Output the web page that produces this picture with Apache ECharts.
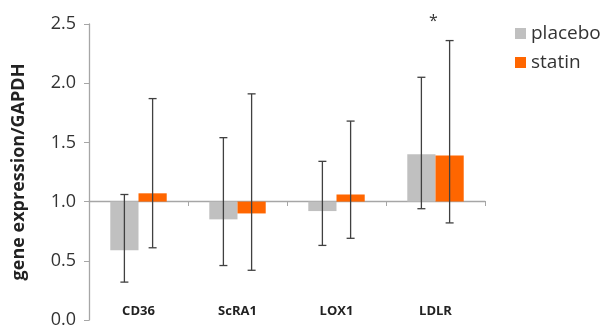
<!DOCTYPE html>
<html><head><meta charset="utf-8">
<script src="https://cdn.jsdelivr.net/npm/echarts@6/dist/echarts.min.js"></script>
<style>html,body{margin:0;padding:0;background:#fff}#c{width:601px;height:329px}</style>
</head><body><div id="c"></div>
<script>
var categories = ['CD36', 'ScRA1', 'LOX1', 'LDLR'];
var placebo = [0.59, 0.85, 0.92, 1.40];
var placeboLow = [0.32, 0.46, 0.63, 0.94];
var placeboHigh = [1.06, 1.54, 1.34, 2.05];
var statin = [1.07, 0.90, 1.06, 1.39];
var statinLow = [0.61, 0.42, 0.69, 0.82];
var statinHigh = [1.87, 1.91, 1.68, 2.36];
var yTicks = [0, 0.5, 1.0, 1.5, 2.0, 2.5];
var significance = [['LDLR', 2.52, '*']];
var baseline = 1.0;
var BAR_FRAC = 0.285;

function barSeries(name, vals, lows, highs, color, side) {
  return {
    name: name, type: 'custom', itemStyle: { color: color },
    data: categories.map(function (c, i) { return [i, vals[i], lows[i], highs[i]]; }),
    encode: { x: 0, y: [1, 2, 3] },
    renderItem: function (params, api) {
      var i = api.value(0);
      var band = api.size([1, 0])[0];
      var bw = band * BAR_FRAC;
      var c0 = api.coord([i, baseline]);
      var cv = api.coord([i, api.value(1)]);
      var cl = api.coord([i, api.value(2)]);
      var ch = api.coord([i, api.value(3)]);
      var x0 = side < 0 ? c0[0] - bw : c0[0];
      var cx = x0 + bw / 2;
      var top = Math.min(c0[1], cv[1]), h = Math.abs(c0[1] - cv[1]);
      var cap = 4;
      var ls = { stroke: '#404040', lineWidth: 1.3 };
      return { type: 'group', children: [
        { type: 'rect', shape: { x: x0, y: top, width: bw, height: h }, style: { fill: color } },
        { type: 'line', shape: { x1: cx, y1: cl[1], x2: cx, y2: ch[1] }, style: ls },
        { type: 'line', shape: { x1: cx - cap, y1: cl[1], x2: cx + cap, y2: cl[1] }, style: ls },
        { type: 'line', shape: { x1: cx - cap, y1: ch[1], x2: cx + cap, y2: ch[1] }, style: ls }
      ]};
    }
  };
}

var chart = echarts.init(document.getElementById('c'), null, { renderer: 'canvas' });
chart.setOption({
  animation: false,
  backgroundColor: '#fff',
  textStyle: { fontFamily: 'Open Sans' },
  grid: { left: 89, right: 116, top: 24, bottom: 7 },
  legend: {
    data: ['placebo', 'statin'], orient: 'vertical', left: 510, top: 19,
    icon: 'rect', itemWidth: 11, itemHeight: 11, itemGap: 10,
    textStyle: { fontSize: 19, color: '#333', fontFamily: 'Open Sans' }
  },
  xAxis: {
    type: 'category', data: categories, offset: -119,
    axisLine: { lineStyle: { color: '#a6a6a6', width: 1.3 } },
    axisTick: { show: true, length: 5, lineStyle: { color: '#a6a6a6' } },
    axisLabel: { margin: 104, fontSize: 13, fontWeight: 'bold', color: '#222', fontFamily: 'Open Sans' }
  },
  yAxis: {
    type: 'value', min: 0, max: 2.5, interval: 0.5,
    name: 'gene expression/GAPDH', nameLocation: 'middle', nameGap: 61,
    nameTextStyle: { fontSize: 18, fontWeight: 'bold', color: '#222', fontFamily: 'Open Sans' },
    axisLine: { show: true, lineStyle: { color: '#a6a6a6', width: 1.3 } },
    axisTick: { show: true, length: 5, lineStyle: { color: '#a6a6a6' } },
    splitLine: { show: false },
    axisLabel: { fontSize: 18, color: '#333', margin: 13,
      formatter: function (v) { return yTicks.indexOf(v) >= 0 ? v.toFixed(1) : ''; } }
  },
  series: [
    barSeries('placebo', placebo, placeboLow, placeboHigh, '#c0c0c0', -1),
    barSeries('statin', statin, statinLow, statinHigh, '#ff6600', 1),
    {
      type: 'custom', silent: true,
      data: significance.map(function (s) { return [categories.indexOf(s[0]), s[1], s[2]]; }),
      encode: { x: 0, y: 1 },
      renderItem: function (params, api) {
        var p = api.coord([api.value(0), api.value(1)]);
        return { type: 'text', x: p[0] - 2, y: p[1], style: {
          text: significance[params.dataIndex][2], fontSize: 16, fill: '#333',
          align: 'center', verticalAlign: 'middle', fontFamily: 'Open Sans' } };
      }
    }
  ]
});
</script></body></html>
